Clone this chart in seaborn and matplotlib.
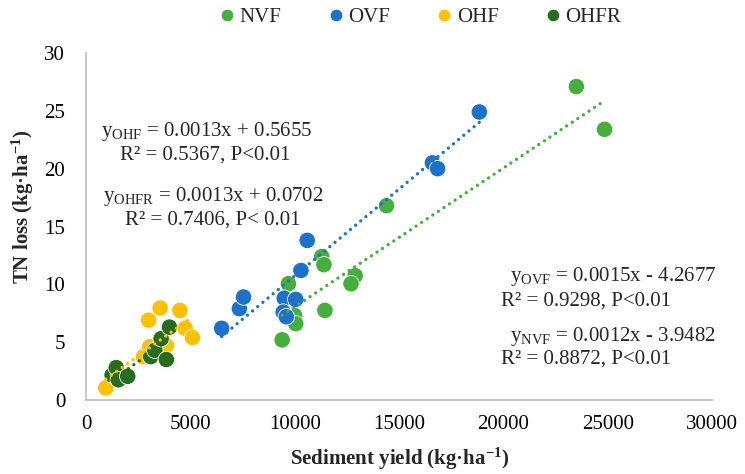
import numpy as np
import pandas as pd
import matplotlib
matplotlib.use("Agg")
import matplotlib.pyplot as plt
import seaborn as sns
from matplotlib.lines import Line2D

# ---------------- data ----------------
groups = ["NVF", "OVF", "OHF", "OHFR"]
colors = ["#45AE3C", "#1C71CA", "#FFC000", "#286C1F"]

nvf_x = [23500, 24850, 14400, 11300, 11400, 12900, 12700, 9700, 10000, 10050, 11450, 9400]
nvf_y = [27.1, 23.4, 16.8, 12.4, 11.7, 10.75, 10.05, 10.05, 7.3, 6.6, 7.75, 5.2]

ovf_x = [6500, 7350, 7550, 9500, 10050, 9450, 9600, 10300, 10600, 16600, 16850, 18850]
ovf_y = [6.2, 7.9, 8.9, 8.8, 8.7, 7.6, 7.2, 11.2, 13.8, 20.5, 20.0, 24.9]

ohf_x = [950, 2750, 3050, 3850, 3000, 3550, 4500, 4750, 5100]
ohf_y = [1.05, 3.75, 4.6, 4.7, 6.9, 7.95, 7.75, 6.2, 5.4]

ohfr_x = [1250, 1450, 1550, 2000, 3100, 3300, 3600, 4000, 3850]
ohfr_y = [2.15, 2.8, 1.75, 2.05, 3.75, 4.3, 5.3, 6.3, 3.5]

slopes = [0.0012, 0.0015, 0.0013, 0.0013]
intercepts = [-3.9482, -4.2677, 0.5655, 0.0702]

eq_texts = [
    r"y$_{\mathrm{OHF}}$ = 0.0013x + 0.5655",
    "R\u00b2 = 0.5367, P<0.01",
    r"y$_{\mathrm{OHFR}}$ = 0.0013x + 0.0702",
    "R\u00b2 = 0.7406, P< 0.01",
    r"y$_{\mathrm{OVF}}$ = 0.0015x - 4.2677",
    "R\u00b2 = 0.9298, P<0.01",
    r"y$_{\mathrm{NVF}}$ = 0.0012x - 3.9482",
    "R\u00b2 = 0.8872, P<0.01",
]

xticks = [0, 5000, 10000, 15000, 20000, 25000, 30000]
yticks = [0, 5, 10, 15, 20, 25, 30]

# ---------------- style ----------------
sns.set_theme(style="white")
plt.rcParams["font.family"] = ["Liberation Serif", "DejaVu Serif"]
plt.rcParams["mathtext.fontset"] = "custom"
plt.rcParams["mathtext.rm"] = "Liberation Serif"
plt.rcParams["mathtext.it"] = "Liberation Serif:italic"
plt.rcParams["mathtext.bf"] = "Liberation Serif:bold"

FS = 15
W, H = 745, 474
fig = plt.figure(figsize=(W / 100, H / 100), dpi=100)
x0, x1, yb, yt = 86, 712, 400, 53
ax = fig.add_axes([x0 / W, 1 - yb / H, (x1 - x0) / W, (yb - yt) / H])

xs_all = [nvf_x, ovf_x, ohf_x, ohfr_x]
ys_all = [nvf_y, ovf_y, ohf_y, ohfr_y]
df = pd.concat(
    [pd.DataFrame({"x": xv, "y": yv, "group": g}) for g, xv, yv in zip(groups, xs_all, ys_all)],
    ignore_index=True,
)
palette = dict(zip(groups, colors))

sns.scatterplot(data=df, x="x", y="y", hue="group", hue_order=groups, palette=palette,
                s=140, edgecolor="white", linewidth=0.6, legend=False, ax=ax, zorder=2)

# trend lines
for g, c, m, b, xv in zip(groups, colors, slopes, intercepts, xs_all):
    lx = np.array([min(xv), max(xv)], dtype=float)
    ly = m * lx + b
    ax.plot(lx, ly, color=c, lw=2.4, linestyle=(0, (0.01, 2.0)),
            dash_capstyle="round", zorder=3)

ax.set_xlim(0, 30000)
ax.set_ylim(0, 30)
ax.set_xticks(xticks)
ax.set_yticks(yticks)
ax.set_xticklabels([str(v) for v in xticks])
ax.set_yticklabels([str(v) for v in yticks])
for s in ["top", "right"]:
    ax.spines[s].set_visible(False)
for s in ["left", "bottom"]:
    ax.spines[s].set_color("#BFBFBF")
    ax.spines[s].set_linewidth(1.2)
ax.tick_params(axis="both", direction="in", length=4, width=1, color="#BFBFBF",
               labelsize=FS, labelcolor="black")
ax.tick_params(axis="x", pad=11)
ax.tick_params(axis="y", pad=15)

ax.set_xlabel(r"Sediment yield (kg·ha$^{\mathbf{-1}}$)", fontsize=FS, fontweight="bold")
ax.set_ylabel(r"TN loss (kg·ha$^{\mathbf{-1}}$)", fontsize=FS, fontweight="bold")
ax.xaxis.set_label_coords((400 - x0) / (x1 - x0), -(446 - yb) / (yb - yt))
ax.yaxis.set_label_coords(-(86 - 36) / (x1 - x0), (yb - 207) / (yb - yt))

# equation annotations (pixel positions -> figure fraction)
pos = [(101, 132), (120, 155), (103, 197), (125, 220),
       (510, 277), (501, 301), (510, 337), (501, 359)]
for t, (px, py) in zip(eq_texts, pos):
    fig.text(px / W, 1 - py / H, t, fontsize=FS, ha="left", va="center")

# legend
handles = [Line2D([0], [0], marker="o", linestyle="", markersize=9,
                  markerfacecolor=c, markeredgecolor="white", markeredgewidth=0.5)
           for c in colors]
fig.legend(handles, groups, loc="center", bbox_to_anchor=(420 / W, 1 - 17 / H),
           ncol=4, frameon=False, fontsize=FS, handlelength=0.8, handletextpad=0.2,
           columnspacing=2.2, borderpad=0.1)

fig.savefig("out.png", dpi=100)
